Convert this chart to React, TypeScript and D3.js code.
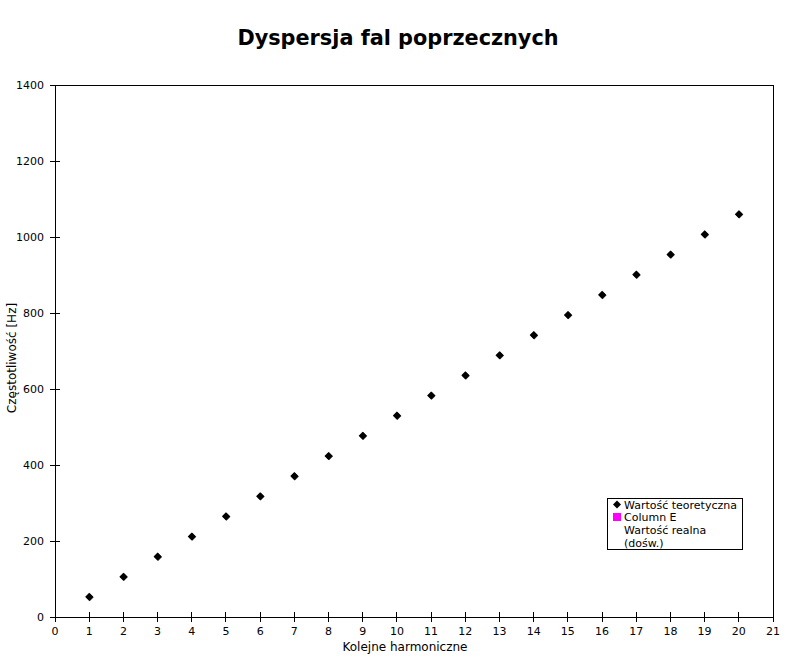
import React from "react";
import * as d3 from "d3";

const harmonics = [1, 2, 3, 4, 5, 6, 7, 8, 9, 10, 11, 12, 13, 14, 15, 16, 17, 18, 19, 20];
const theoretical = [53, 106, 159, 212, 265, 318, 371, 424, 477, 530, 583, 636, 689, 742, 795, 848, 901, 954, 1007, 1060];
const measured = [52, 105, 158, 211, 264, 317, 370, 423, 476, 529, 582, 635, 688, 741, 794, 847, 900, 953, 1006, 1059];
const xTicks = d3.range(0, 22);
const yTicks = [0, 200, 400, 600, 800, 1000, 1200, 1400];

const W = 796, H = 658;
const L = 55, R = 773, T = 85, B = 617;
const FONT = "DejaVu Sans, sans-serif";

function diamond(cx: number, cy: number, r: number) {
  return `M${cx},${cy - r}L${cx + r},${cy}L${cx},${cy + r}L${cx - r},${cy}Z`;
}

export default function App() {
  const x = d3.scaleLinear().domain([0, 21]).range([L, R]);
  const y = d3.scaleLinear().domain([0, 1400]).range([B, T]);
  return (
    <svg width={W} height={H} style={{ position: "absolute", left: 0, top: 0, background: "#fff" }} fontFamily={FONT}>
      <rect x={0} y={0} width={W} height={H} fill="#fff" />
      <text x={398} y={45} textAnchor="middle" fontSize={20.8} fontWeight="bold">Dyspersja fal poprzecznych</text>
      <rect x={L} y={T} width={R - L} height={B - T} fill="none" stroke="#000" strokeWidth={1} shapeRendering="crispEdges" />
      {xTicks.map((t) => (
        <g key={"x" + t}>
          <line x1={x(t)} x2={x(t)} y1={B - 5} y2={B + 5} stroke="#000" shapeRendering="crispEdges" />
          <text x={x(t)} y={B + 18} textAnchor="middle" fontSize={11}>{t}</text>
        </g>
      ))}
      {yTicks.map((t) => (
        <g key={"y" + t}>
          <line x1={L - 5} x2={L + 5} y1={y(t)} y2={y(t)} stroke="#000" shapeRendering="crispEdges" />
          <text x={44} y={y(t) + 4} textAnchor="end" fontSize={11}>{t}</text>
        </g>
      ))}
      <text x={405} y={651} textAnchor="middle" fontSize={12}>Kolejne harmoniczne</text>
      <text transform={`translate(16,358) rotate(-90)`} textAnchor="middle" fontSize={12}>Częstotliwość [Hz]</text>
      {harmonics.map((h, i) => (
        <path key={"m" + h} d={diamond(x(h) + 0.5, y(measured[i]), 4)} fill="#222" />
      ))}
      {harmonics.map((h, i) => (
        <path key={"t" + h} d={diamond(x(h), y(theoretical[i]), 4)} fill="#000" />
      ))}
      <g>
        <rect x={607.5} y={498.5} width={135} height={51} fill="#fff" stroke="#000" shapeRendering="crispEdges" />
        <path d={diamond(617, 504.5, 4)} fill="#000" />
        <text x={624} y={508.5} fontSize={11}>Wartość teoretyczna</text>
        <rect x={613} y={513} width={8} height={8} fill="#ff00ff" />
        <text x={624} y={521} fontSize={11}>Column E</text>
        <text x={624} y={534} fontSize={11}>Wartość realna</text>
        <text x={624} y={547} fontSize={11}>(dośw.)</text>
      </g>
    </svg>
  );
}
